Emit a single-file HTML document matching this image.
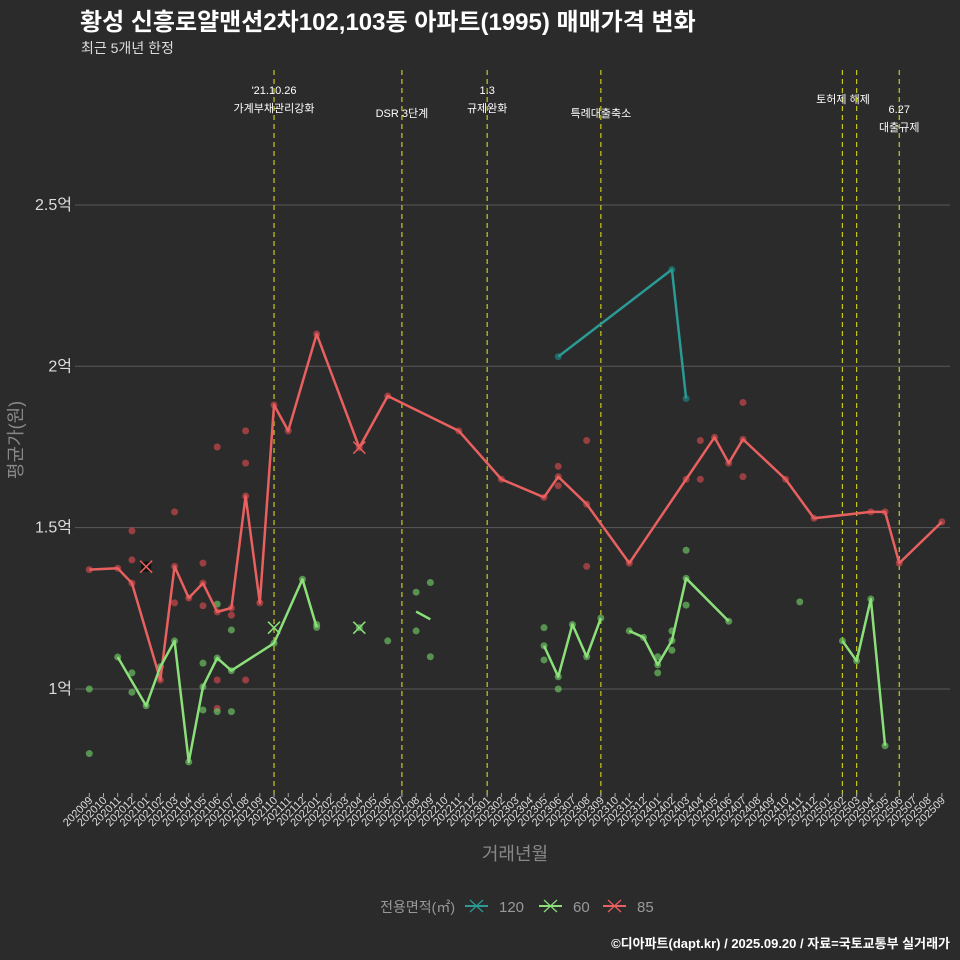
<!DOCTYPE html>
<html><head><meta charset="utf-8">
<style>
html,body{margin:0;padding:0;background:#2b2b2b;}
svg{display:block;font-family:"Liberation Sans","Noto Sans CJK KR",sans-serif;}
</style></head>
<body>
<svg id="chart" width="960" height="960" viewBox="0 0 960 960" xmlns="http://www.w3.org/2000/svg">
<rect x="0" y="0" width="960" height="960" fill="#2b2b2b"/>
<text x="80" y="30" fill="#ffffff" font-size="24" font-weight="bold">황성 신흥로얄맨션2차102,103동 아파트(1995) 매매가격 변화</text>
<text x="81" y="53" fill="#dddddd" font-size="14">최근 5개년 한정</text>
<text x="950" y="948" fill="#ffffff" font-size="13" font-weight="bold" text-anchor="end">©디아파트(dapt.kr) / 2025.09.20 / 자료=국토교통부 실거래가</text>
<text transform="translate(22,440) rotate(-90)" fill="#888888" font-size="18" text-anchor="middle">평균가(원)</text>
<text x="515" y="860" fill="#888888" font-size="18" text-anchor="middle">거래년월</text>
<g id="grid"></g><g id="events"></g><g id="xaxis"></g><g id="yaxis"></g><g id="marks"></g>
<g>
<text x="455" y="912" fill="#999999" font-size="14" text-anchor="end">전용면적(㎡)</text>
<g><line x1="465" y1="906" x2="488" y2="906" stroke="#2a9a94" stroke-width="2"/><path d="M470 900 L483 912 M483 900 L470 912" stroke="#2a9a94" stroke-width="1.2"/><text x="499" y="912" fill="#999999" font-size="15">120</text></g>
<g><line x1="539" y1="906" x2="562" y2="906" stroke="#8be07a" stroke-width="2"/><path d="M544 900 L557 912 M557 900 L544 912" stroke="#8be07a" stroke-width="1.2"/><text x="573" y="912" fill="#999999" font-size="15">60</text></g>
<g><line x1="603" y1="906" x2="626" y2="906" stroke="#e8605f" stroke-width="2"/><path d="M608 900 L621 912 M621 900 L608 912" stroke="#e8605f" stroke-width="1.2"/><text x="637" y="912" fill="#999999" font-size="15">85</text></g>
</g>
</svg>
<script>
const months = [];
for (let y = 2020, m = 9; months.length < 61; ) { months.push(String(y) + String(m).padStart(2,'0')); m++; if (m > 12) { m = 1; y++; } }
const yTickValues = [1, 1.5, 2, 2.5];
const yTickLabels = ['1억', '1.5억', '2억', '2.5억'];
const eventMonths = ['202110', '202207', '202301', '202309', '202502', '202503', '202506'];
const eventLabels = [["'21.10.26", '가계부채관리강화'], ['', 'DSR 3단계'], ['1.3', '규제완화'], ['', '특례대출축소'], ['토허제 해제'], [''], ['6.27', '대출규제']];
const red85Months = [0,2,3,5,6,7,8,9,10,11,12,13,14,16,19,21,26,29,32,33,35,38,42,44,45,46,49,51,55,56,57,60];
const red85Values = [1.37,1.374,1.328,1.028,1.38,1.282,1.328,1.239,1.251,1.598,1.267,1.88,1.80,2.10,1.748,1.908,1.80,1.65,1.594,1.658,1.573,1.39,1.65,1.78,1.70,1.774,1.65,1.529,1.549,1.549,1.39,1.518];
const teal120Months = [33,41,42];
const teal120Values = [2.03,2.30,1.90];
const green60Segments = [
  [[2,4,5,6,7,8,9,10,13,15,16],[1.099,0.948,1.069,1.149,0.774,1.007,1.096,1.057,1.142,1.34,1.191]],
  [[23,24],[1.24,1.216]],
  [[32,33,34,35,36],[1.134,1.038,1.20,1.10,1.22]],
  [[38,39,40,41,42,45],[1.18,1.16,1.075,1.15,1.343,1.21]],
  [[53,54,55,56],[1.149,1.087,1.279,0.824]]
];
const redDotMonths = [3,3,6,6,8,8,9,9,9,10,11,11,11,33,33,35,35,43,43,46,46];
const redDotValues = [1.40,1.49,1.549,1.267,1.39,1.258,1.75,1.028,0.94,1.229,1.80,1.70,1.028,1.69,1.63,1.77,1.38,1.77,1.65,1.888,1.658];
const greenDotMonths = [0,0,3,3,8,8,9,9,10,10,16,19,21,23,23,24,24,32,32,33,40,40,41,41,42,42,50];
const greenDotValues = [1.0,0.80,1.05,0.99,1.08,0.935,1.263,0.93,1.183,0.93,1.20,1.19,1.149,1.30,1.18,1.33,1.10,1.19,1.09,1.0,1.10,1.05,1.18,1.12,1.43,1.26,1.27];
const crossMonths = [4,13,19,19];
const crossValues = [1.379,1.19,1.19,1.748];
const crossColors = ['#e8605f','#8be07a','#8be07a','#e8605f'];

const NS = 'http://www.w3.org/2000/svg';
function xs(i){ return 89.3 + 14.21*i; }
function ys(v){ return 689 - (v-1)*322.7; }
function mk(tag, attrs, parent){ const e=document.createElementNS(NS,tag); for(const k in attrs) e.setAttribute(k,attrs[k]); parent.appendChild(e); return e; }
const grid=document.getElementById('grid'), ev=document.getElementById('events'), xa=document.getElementById('xaxis'), ya=document.getElementById('yaxis'), marks=document.getElementById('marks');

yTickValues.forEach((v,k)=>{
  const l=mk('line',{x1:75,x2:950,y1:ys(v),y2:ys(v),stroke:'#5a5a5a','stroke-width':1},grid);
  
  
  const t=mk('text',{x:72,y:ys(v)+5,fill:'#dddddd','font-size':16,'text-anchor':'end'},ya);
  t.textContent=yTickLabels[k];
  
  
});
months.forEach((m,i)=>{
  const x=xs(i);
  const tk=mk('line',{x1:x,x2:x,y1:793,y2:797,stroke:'#aaaaaa','stroke-width':1},xa);
  
  
  const t=mk('text',{x:x+4,y:801,fill:'#dddddd','font-size':11,'text-anchor':'end',transform:`rotate(-45 ${x+4} 801)`},xa);
  t.textContent=m;
  
  
});
eventMonths.forEach((m,k)=>{
  const x=xs(months.indexOf(m));
  const l=mk('line',{x1:x,x2:x,y1:70,y2:795,stroke:'#c8c81e','stroke-width':1.2,'stroke-dasharray':'5,4'},ev);
  
  
  const lab=eventLabels[k];
  let ys0 = lab.length===1 ? 103 : (lab[0]==='' ? 99 : 94);
  if (m==='202506') ys0=113;
  let cx = x; if (m==='202502') cx = 843;
  lab.forEach((s,j)=>{
    if(!s) return;
    const t=mk('text',{x:cx,y:ys0+j*18,fill:'#ffffff','font-size':11,'text-anchor':'middle'},ev);
    t.textContent=s;
    
    
  });
});
function dots(ms,vs,color,name){
  ms.forEach((m,k)=>{
    const c=mk('circle',{cx:xs(m),cy:ys(vs[k]),r:3.5,fill:color,'fill-opacity':0.7},marks);
    
    
  });
}
function line(ms,vs,color,name){
  const p=mk('polyline',{points:ms.map((m,k)=>xs(m)+','+ys(vs[k])).join(' '),fill:'none',stroke:color,'stroke-width':2.5,'stroke-linejoin':'round'},marks);
  
  
}
dots(redDotMonths,redDotValues,'#c9494b','dot-85');
dots(greenDotMonths,greenDotValues,'#6cbf62','dot-60');
dots(red85Months,red85Values,'#c9494b','dot-85');
dots(teal120Months,teal120Values,'#1f7f7b','dot-120');
green60Segments.forEach(s=>{ if(s[0].length>2) dots(s[0],s[1],'#6cbf62','dot-60'); });
line(red85Months,red85Values,'#e8605f','line-85');
line(teal120Months,teal120Values,'#2a9a94','line-120');
green60Segments.forEach(s=>line(s[0],s[1],'#8be07a','line-60'));
crossMonths.forEach((m,k)=>{
  const x=xs(m), y=ys(crossValues[k]);
  if(k===0){
    const b=mk('rect',{x:x-5,y:y-5,width:10,height:10,fill:'#111'},marks);
    
    
  }
  const p=mk('path',{d:`M${x-6} ${y-6} L${x+6} ${y+6} M${x+6} ${y-6} L${x-6} ${y+6}`,stroke:crossColors[k],'stroke-width':1.5},marks);
  
  
});
</script>
</body></html>
